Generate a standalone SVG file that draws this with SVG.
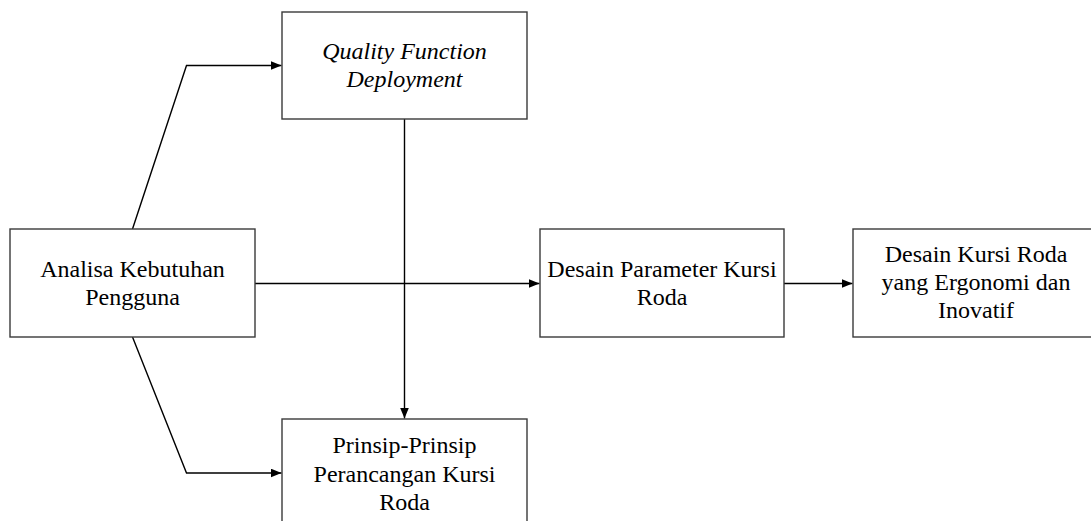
<svg xmlns="http://www.w3.org/2000/svg" width="1091" height="521" viewBox="0 0 1091 521">
  <style>
    .box { fill: #ffffff; stroke: #3a3a3a; stroke-width: 1.4; }
    .lbl { font-family: "Liberation Serif", "Times New Roman", serif; font-size: 24px; fill: #000000; text-anchor: middle; }
    .it { font-style: italic; }
    .wire { fill: none; stroke: #000000; stroke-width: 1.4; }
  </style>
  <defs>
    <marker id="arrow" viewBox="0 0 11 9" refX="11" refY="4.5" markerWidth="11" markerHeight="9" markerUnits="userSpaceOnUse" orient="auto">
      <path d="M0,0 L11,4.5 L0,9 Z" fill="#000000"/>
    </marker>
  </defs>
  <rect width="1091" height="521" fill="#ffffff"/>

  <!-- connectors -->
  <g id="connectors">
    <polyline class="wire" points="132.5,229 186.5,65.5 281.5,65.5" marker-end="url(#arrow)"/>
    <polyline class="wire" points="132.5,337 186.5,473 281.5,473" marker-end="url(#arrow)"/>
    <line class="wire" x1="404.5" y1="119" x2="404.5" y2="418.5" marker-end="url(#arrow)"/>
    <line class="wire" x1="255" y1="283.5" x2="539.5" y2="283.5" marker-end="url(#arrow)"/>
    <line class="wire" x1="784" y1="283.5" x2="852.5" y2="283.5" marker-end="url(#arrow)"/>
  </g>

  <!-- nodes -->
  <g id="analisa">
    <rect class="box" x="10" y="229" width="245" height="108"/>
    <text class="lbl" x="132.5" y="277">Analisa Kebutuhan</text>
    <text class="lbl" x="132.5" y="305">Pengguna</text>
  </g>
  <g id="qfd">
    <rect class="box" x="282" y="12" width="245" height="107"/>
    <text class="lbl it" x="404.5" y="59">Quality Function</text>
    <text class="lbl it" x="404.5" y="87">Deployment</text>
  </g>
  <g id="prinsip">
    <rect class="box" x="282" y="419" width="245" height="120"/>
    <text class="lbl" x="404.5" y="453">Prinsip-Prinsip</text>
    <text class="lbl" x="404.5" y="481.5">Perancangan Kursi</text>
    <text class="lbl" x="404.5" y="510">Roda</text>
  </g>
  <g id="parameter">
    <rect class="box" x="540" y="229" width="244" height="108"/>
    <text class="lbl" x="662" y="277">Desain Parameter Kursi</text>
    <text class="lbl" x="662" y="305">Roda</text>
  </g>
  <g id="hasil">
    <rect class="box" x="853" y="229" width="246" height="108"/>
    <text class="lbl" x="976" y="262">Desain Kursi Roda</text>
    <text class="lbl" x="976" y="290">yang Ergonomi dan</text>
    <text class="lbl" x="976" y="318">Inovatif</text>
  </g>
</svg>
